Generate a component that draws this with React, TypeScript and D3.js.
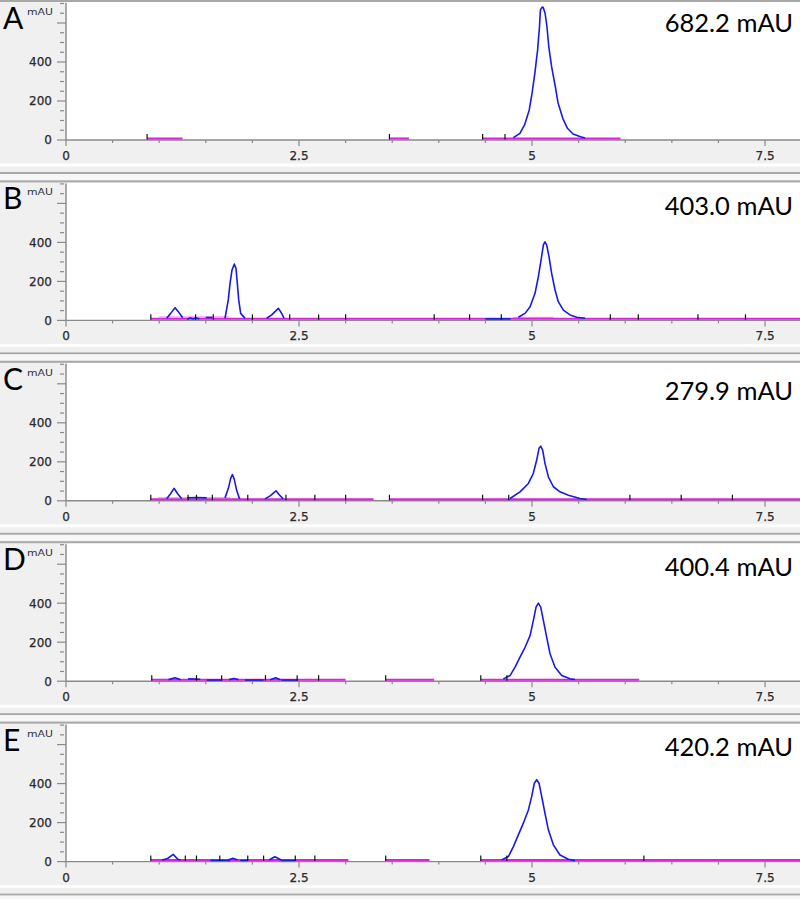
import React from "react";
import * as d3 from "d3";

type Pt = [number, number];

const panelLetters = ["A", "B", "C", "D", "E"];
const peakLabels = ["682.2 mAU", "403.0 mAU", "279.9 mAU", "400.4 mAU", "420.2 mAU"];
const xTickValues = d3.range(0, 7.6, 0.5);
const xLabelValues = [0, 2.5, 5, 7.5];
const yTickValues = d3.range(0, 701, 50);
const yLabelValues = [0, 200, 400];
const baselineLevel = 8;

// ---- chromatogram traces (time in min, signal in mAU) ----
const traceA: Pt[][] = [
  [[4.80, 12], [4.87, 34], [4.92, 77], [4.97, 154], [5.00, 239], [5.03, 342], [5.06, 462], [5.08, 581], [5.09, 667], [5.11, 682], [5.12, 680], [5.14, 650], [5.16, 581], [5.18, 478], [5.21, 376], [5.25, 273], [5.28, 188], [5.33, 111], [5.38, 60], [5.44, 31], [5.52, 17], [5.57, 10]],
];
const traceB: Pt[][] = [
  [[1.08, 11], [1.123, 36], [1.17, 65], [1.212, 40], [1.252, 14]],
  [[1.30, 6], [1.33, 13], [1.36, 8], [1.40, 13], [1.43, 7]],
  [[1.50, 15], [1.57, 15]],
  [[1.706, 11], [1.741, 105], [1.760, 190], [1.781, 258], [1.806, 289], [1.824, 267], [1.838, 190], [1.853, 105], [1.874, 36], [1.92, 11]],
  [[2.153, 11], [2.207, 28], [2.278, 62], [2.314, 36], [2.339, 11]],
  [[4.50, 8], [4.77, 8]],
  [[4.853, 16], [4.925, 36], [4.979, 70], [5.032, 139], [5.068, 224], [5.097, 310], [5.122, 387], [5.139, 403], [5.157, 387], [5.182, 327], [5.21, 242], [5.247, 156], [5.282, 96], [5.336, 53], [5.408, 28], [5.48, 16], [5.57, 11]],
];
const traceC: Pt[][] = [
  [[1.08, 10], [1.12, 35], [1.159, 64], [1.20, 35], [1.24, 12]],
  [[1.30, 15], [1.40, 17], [1.51, 15]],
  [[1.706, 15], [1.742, 64], [1.767, 115], [1.785, 135], [1.805, 111], [1.83, 55], [1.858, 15], [1.867, 10]],
  [[2.135, 10], [2.19, 25], [2.253, 51], [2.29, 30], [2.33, 10]],
  [[4.764, 12], [4.871, 46], [4.961, 89], [5.014, 141], [5.05, 209], [5.075, 269], [5.093, 280], [5.114, 260], [5.139, 192], [5.175, 123], [5.229, 72], [5.30, 46], [5.39, 29], [5.515, 12], [5.587, 7]],
];
const traceD: Pt[][] = [
  [[1.10, 8], [1.17, 18], [1.23, 8]],
  [[1.31, 12], [1.44, 10]],
  [[1.51, 6], [1.67, 6]],
  [[1.75, 8], [1.80, 14], [1.85, 8]],
  [[1.92, 6], [2.12, 6]],
  [[2.19, 8], [2.25, 18], [2.30, 8]],
  [[2.31, 6], [2.48, 6]],
  [[4.692, 12], [4.764, 29], [4.818, 72], [4.871, 123], [4.925, 174], [4.979, 234], [5.014, 311], [5.043, 380], [5.068, 400], [5.093, 380], [5.122, 311], [5.157, 226], [5.193, 141], [5.247, 72], [5.318, 29], [5.408, 12], [5.461, 9]],
];
const traceE: Pt[][] = [
  [[1.03, 8], [1.09, 16], [1.15, 37], [1.20, 12], [1.23, 8]],
  [[1.55, 6], [1.76, 6]],
  [[1.74, 8], [1.79, 17], [1.84, 8]],
  [[1.87, 6], [1.95, 6]],
  [[2.18, 8], [2.24, 25], [2.31, 8]],
  [[2.31, 6], [2.46, 6]],
  [[4.674, 9], [4.746, 26], [4.80, 77], [4.853, 137], [4.907, 197], [4.961, 265], [4.996, 333], [5.025, 402], [5.05, 420], [5.075, 402], [5.104, 333], [5.139, 248], [5.175, 163], [5.229, 86], [5.30, 34], [5.39, 12], [5.461, 5]],
];

// ---- integration baselines [start, end] ----
const magentaA: Pt[] = [[0.87, 1.25], [3.47, 3.68], [4.47, 5.95]];
const magentaB: Pt[] = [[0.91, 7.88]];
const magentaC: Pt[] = [[0.91, 3.30], [3.47, 7.88]];
const magentaD: Pt[] = [[0.92, 3.00], [3.43, 3.95], [4.45, 6.15]];
const magentaE: Pt[] = [[0.91, 3.03], [3.43, 3.90], [4.45, 7.88]];

// lighter (pink) baselines [start, end, level]
const pinkB: [number, number, number][] = [[1.00, 1.75, 18], [4.80, 5.23, 16]];
const pinkC: [number, number, number][] = [[0.99, 1.76, 16]];

// peak start/end markers (min)
const markersA = [0.87, 3.47, 4.47, 4.71];
const markersB = [0.91, 1.39, 1.58, 2.0, 2.40, 2.71, 3.0, 3.95, 4.33, 4.67, 5.84, 6.14, 6.78, 7.29];
const markersC = [0.91, 1.31, 1.40, 1.57, 1.95, 2.36, 2.67, 3.0, 3.47, 4.47, 4.75, 6.05, 6.6, 7.15];
const markersD = [0.92, 1.40, 1.67, 2.14, 2.48, 2.71, 3.43, 4.45, 4.73];
const markersE = [0.91, 1.28, 1.40, 1.65, 1.95, 2.12, 2.46, 2.67, 3.43, 4.45, 4.73, 6.2];

const traces = [traceA, traceB, traceC, traceD, traceE];
const magentas = [magentaA, magentaB, magentaC, magentaD, magentaE];
const pinks = [[], pinkB, pinkC, [], []] as [number, number, number][][];
const markers = [markersA, markersB, markersC, markersD, markersE];

// ---- layout ----
const W = 800;
const H = 899;
const axisYs = [140, 320.4, 500.8, 681.2, 861.6];
const labelYs = [22, 205, 390, 566, 746];
const plotLeft = 66;

const x = d3.scaleLinear().domain([0, 7.875]).range([plotLeft, W]);

const BLUE = "#1a1ae8";
const MAGENTA = "#e020e0";
const PINK = "#ff9cff";
const AXIS = "#8a8a8a";

function Panel({ i }: { i: number }) {
  const a = axisYs[i];
  const T = a - 140;
  const y = d3.scaleLinear().domain([0, 700]).range([a, a - 136.5]);
  const line = d3.line<Pt>().x((d) => x(d[0])).y((d) => y(d[1]));
  const yb = y(baselineLevel);
  return (
    <g>
      <rect x={0} y={T} width={W} height={166} fill="#f0f0f0" />
      <rect x={plotLeft + 1} y={T + 2} width={W - plotLeft - 1} height={a - T - 2} fill="#ffffff" />
      <rect x={0} y={T} width={W} height={2} fill="#a8a8a8" />
      {/* bottom separator */}
      <rect x={0} y={a + 23.5} width={W} height={3} fill="#ffffff" />
      <rect x={0} y={a + 32} width={W} height={2} fill="#a8a8a8" />
      <rect x={0} y={a + 34} width={W} height={5.5} fill="#f7f7f7" />

      {/* axes */}
      <line x1={plotLeft} x2={W} y1={a} y2={a} stroke={AXIS} strokeWidth={1.4} />
      <line x1={plotLeft} x2={plotLeft} y1={T + 3} y2={a} stroke={AXIS} strokeWidth={1.4} />
      {yTickValues.map((v) => {
        const major = v % 200 === 0;
        return (
          <line key={"yt" + v} x1={major ? plotLeft - 9 : plotLeft - 6} x2={major ? plotLeft : plotLeft - 2} y1={y(v)} y2={y(v)} stroke={AXIS} strokeWidth={1.2} />
        );
      })}
      {yLabelValues.map((v) => (
        <text key={"yl" + v} x={52} y={y(v)} dy="0.36em" textAnchor="end" fontFamily="DejaVu Sans" fontSize={12} fill="#2a2a2a" stroke="#2a2a2a" strokeWidth={0.25}>
          {v}
        </text>
      ))}
      {xTickValues.map((v) => {
        const major = Math.abs(v / 2.5 - Math.round(v / 2.5)) < 1e-6;
        return <line key={"xt" + v} x1={x(v)} x2={x(v)} y1={a} y2={a + (major ? 6 : 3)} stroke={AXIS} strokeWidth={1.2} />;
      })}
      {xLabelValues.map((v) => (
        <text key={"xl" + v} x={x(v)} y={a + 20} textAnchor="middle" fontFamily="DejaVu Sans" fontSize={12} fill="#2a2a2a" stroke="#2a2a2a" strokeWidth={0.25}>
          {v}
        </text>
      ))}
      <text x={53} y={T + 15} textAnchor="end" fontFamily="DejaVu Sans" fontSize={9} fill="#333" textLength={26} lengthAdjust="spacingAndGlyphs">
        mAU
      </text>
      <text x={3} y={T + 29} fontFamily="Lato" fontSize={30} fill="#000">
        {panelLetters[i]}
      </text>
      <text x={793} y={labelYs[i]} dominantBaseline="central" textAnchor="end" fontFamily="Lato" fontSize={25.5} fill="#000">
        {peakLabels[i]}
      </text>

      {/* integration baselines */}
      {pinks[i].map((p, k) => (
        <line key={"pk" + k} x1={x(p[0])} x2={x(p[1])} y1={y(p[2])} y2={y(p[2])} stroke={PINK} strokeWidth={1.3} />
      ))}
      {magentas[i].map((s, k) => (
        <line key={"mg" + k} x1={x(s[0])} x2={x(s[1])} y1={yb} y2={yb} stroke={MAGENTA} strokeWidth={2} />
      ))}
      {/* signal */}
      {traces[i].map((seg, k) => (
        <path key={"tr" + k} d={line(seg) || ""} fill="none" stroke={BLUE} strokeWidth={1.6} strokeLinejoin="round" />
      ))}
      {markers[i].map((t, k) => (
        <line key={"mk" + k} x1={x(t)} x2={x(t)} y1={yb + 1} y2={yb - 4.5} stroke="#111" strokeWidth={1.2} />
      ))}
    </g>
  );
}

export default function App() {
  return (
    <div style={{ position: "absolute", left: 0, top: 0 }}>
      <svg width={W} height={H} viewBox={`0 0 ${W} ${H}`} style={{ display: "block" }}>
        <rect x={0} y={0} width={W} height={H} fill="#f0f0f0" />
        {panelLetters.map((_, i) => (
          <Panel key={i} i={i} />
        ))}
      </svg>
    </div>
  );
}
